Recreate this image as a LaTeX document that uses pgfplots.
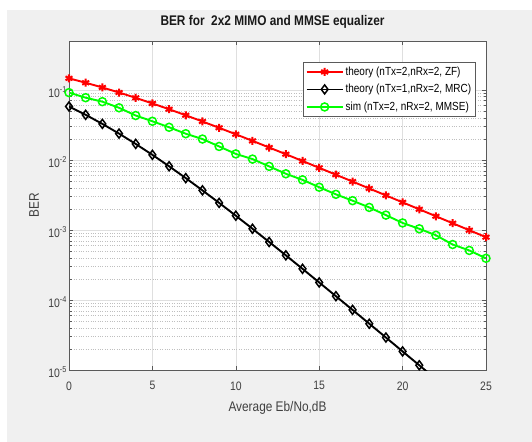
\documentclass[border=0pt]{standalone}
\usepackage{fontspec}
\setmainfont{Liberation Sans}[FakeStretch=0.85]
\usepackage{pgfplots}
\pgfplotsset{compat=1.18}
\definecolor{figbg}{RGB}{240,240,240}
\definecolor{txtgray}{RGB}{64,64,64}
\definecolor{axgray}{RGB}{90,90,90}
\definecolor{pgreen}{RGB}{0,255,0}
\definecolor{pred}{RGB}{255,0,0}
\begin{document}
\begin{tikzpicture}
\fill[white] (0bp,0bp) rectangle (532bp,442bp);
\fill[figbg] (7bp,0bp) rectangle (532bp,432bp);
\begin{axis}[
  at={(69bp,72bp)}, anchor=south west,
  scale only axis, width=417bp, height=329bp,
  ymode=log, xmin=0, xmax=25, ymin=1e-5, ymax=0.5,
  axis background/.style={fill=white},
  xtick={0,5,10,15,20,25}, xticklabels={0,5,10,15,20,25},
  ytick={1e-5,1e-4,1e-3,1e-2,1e-1},
  yticklabels={10\textsuperscript{-5},10\textsuperscript{-4},10\textsuperscript{-3},10\textsuperscript{-2},10\textsuperscript{-1}},
  grid=both,
  major grid style={gray!25, line width=0.6bp},
  minor grid style={gray!50, dotted, line width=0.6bp},
  axis line style={axgray, line width=0.8bp},
  tick style={axgray, line width=0.6bp},
  major tick length=4bp, minor tick length=2.5bp,
  tick align=inside,
  tick label style={font=\fontsize{12.3}{14}\selectfont, text=txtgray},
  xticklabel style={yshift=-8bp},
  yticklabel style={xshift=1.5bp, yshift=-2bp},
  title={BER for \ 2x2 MIMO and MMSE equalizer},
  title style={font=\fontsize{14}{16}\selectfont\bfseries, text=black!90, at={(rel axis cs:0.5,1.04)}, anchor=center, xshift=-5bp},
  xlabel={Average Eb/No,dB},
  ylabel={BER},
  label style={font=\fontsize{14}{16}\selectfont, text=txtgray},
  xlabel style={at={(rel axis cs:0.5,-0.116)}, anchor=center},
  ylabel style={at={(rel axis cs:-0.084,0.5)}, anchor=center},
  legend style={at={(rel axis cs:0.976,0.936)}, anchor=north east,
    font=\fontsize{11.8}{13}\selectfont, draw=axgray, line width=0.8bp,
    inner sep=2.5bp, row sep=3.5bp, fill=white},
  legend cell align=left,
  legend image code/.code={
    \draw[mark repeat=2,mark phase=2] plot coordinates {(0bp,0bp)(18bp,0bp)(36bp,0bp)};
  },
  every axis plot/.append style={line width=1.9bp},
  clip=true,
]
\addplot[pred, mark=asterisk, mark size=4bp, mark options={line width=2bp}] coordinates {
(0,0.14645)(1,0.12673)(2,0.10849)(3,0.09191)(4,0.07714)(5,0.06418)(6,0.05300)(7,0.04348)(8,0.03546)(9,0.02879)(10,0.02327)(11,0.01875)(12,0.01506)(13,0.01208)(14,0.00967)(15,0.00772)(16,0.00616)(17,0.004914)(18,0.003916)(19,0.003118)(20,0.002481)(21,0.001974)(22,0.00157)(23,0.001248)(24,0.000992)(25,0.000789)};
\addlegendentry{theory (nTx=2,nRx=2, ZF)}
\addplot[black, mark=diamond, mark size=4.5bp, mark options={line width=1.5bp, fill=none}] coordinates {
(0,0.05806)(1,0.04411)(2,0.03276)(3,0.02379)(4,0.01693)(5,0.011828)(6,0.008129)(7,0.005507)(8,0.003683)(9,0.002439)(10,0.001599)(11,0.0010415)(12,0.0006736)(13,0.0004343)(14,0.0002787)(15,0.0001779)(16,0.0001134)(17,0.0000722)(18,0.00004588)(19,0.00002912)(20,0.00001844)(21,0.00001168)(22,0.00000739)(23,0.000004669)(24,0.00000295)(25,0.000001866)};
\addlegendentry{theory (nTx=1,nRx=2, MRC)}
\addplot[pgreen, mark=o, mark size=4bp, mark options={line width=1.5bp}] coordinates {
(0,0.0916)(1,0.0775)(2,0.068)(3,0.0556)(4,0.0431)(5,0.0357)(6,0.0293)(7,0.0237)(8,0.0199)(9,0.0156)(10,0.0122)(11,0.0103)(12,0.0081)(13,0.00635)(14,0.0052)(15,0.00408)(16,0.00323)(17,0.00262)(18,0.0021)(19,0.00163)(20,0.00126)(21,0.00104)(22,0.00084)(23,0.00062)(24,0.00051)(25,0.000394)};
\addlegendentry{sim (nTx=2, nRx=2, MMSE)}
\end{axis}
\end{tikzpicture}
\end{document}
